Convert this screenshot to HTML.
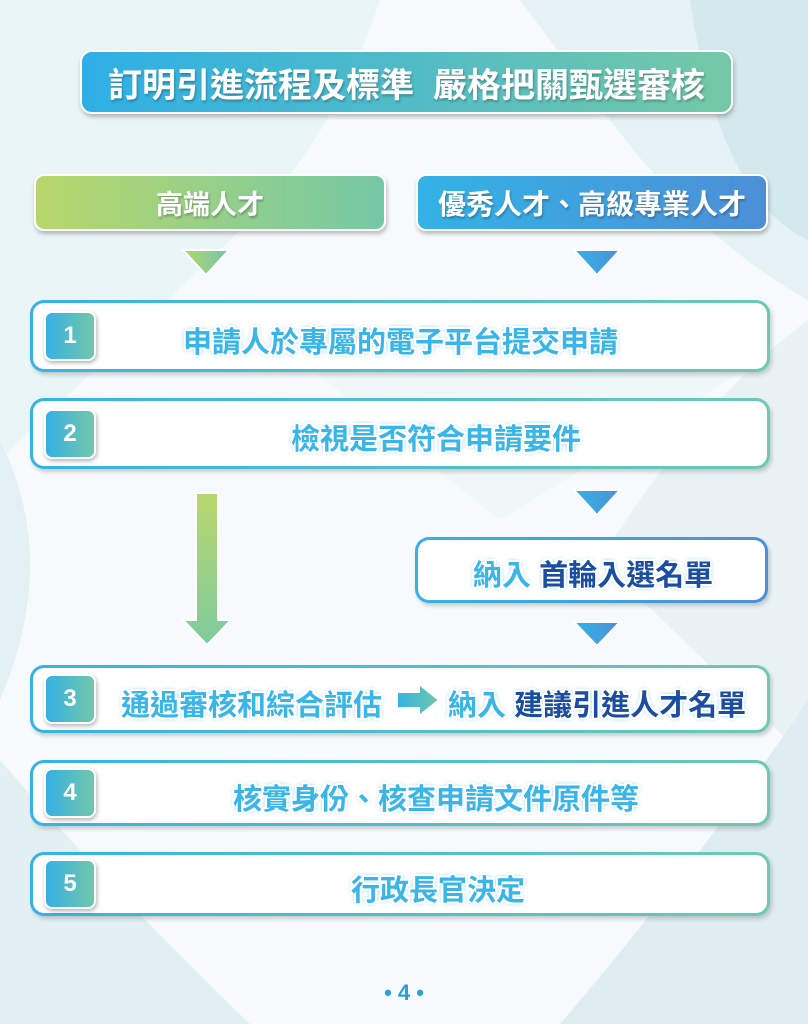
<!DOCTYPE html>
<html><head><meta charset="utf-8"><style>
*{margin:0;padding:0;box-sizing:border-box}
body{width:808px;height:1024px;position:relative;overflow:hidden;background:#f6fafc;font-family:"Liberation Sans","Noto Sans CJK TC",sans-serif;font-weight:bold}
.abs{position:absolute}
.hdr{position:absolute;color:#fff;display:flex;align-items:center;justify-content:center;border:2px solid #fff;border-radius:10px;box-shadow:1px 3px 4px rgba(0,0,0,.25);text-shadow:1px 2px 2px rgba(0,0,0,.25)}
.row{position:absolute;left:30px;width:740px;background:#fff;border-radius:14px;border:3px solid transparent;background-image:linear-gradient(#fff,#fff),linear-gradient(90deg,#35b3e6,#6dc9b3);background-origin:border-box;background-clip:padding-box,border-box;box-shadow:2px 3px 4px rgba(0,0,0,.18)}
.num{position:absolute;left:11px;width:52px;height:50px;border-radius:8px;background:linear-gradient(90deg,#36b0e4,#72c7a9);border:2px solid #fff;box-shadow:1px 2px 4px rgba(0,0,0,.3);color:#fff;font-size:24px;display:flex;align-items:center;justify-content:center}
.t{position:absolute;font-size:29px;color:#3ab5e8;white-space:nowrap;text-shadow:-2px 0 #fff,2px 0 #fff,0 -2px #fff,0 2px #fff,-2px -2px #fff,2px 2px #fff,-2px 2px #fff,2px -2px #fff,0 0 5px #8fd2ee,0 0 6px #8fd2ee,0 0 3px #8fd2ee}
.d{color:#1b4ea0}
</style></head><body>
<svg class="abs" style="left:0;top:0" width="808" height="1024">
<path d="M0 0 L380 0 Q330 150 230 240 L0 460Z" fill="#e6f2f5" opacity=".7"/>
<path d="M520 0 L808 0 L808 300 Q700 240 610 120Z" fill="#e2f0f3" opacity=".8"/>
<path d="M690 0 L808 0 L808 240 Q720 200 690 0Z" fill="#d3e9ee"/>
<path d="M0 440 Q60 560 0 700Z" fill="#e4f1f4"/>
<path d="M808 320 Q700 400 600 560 L808 760Z" fill="#e6f1f4" opacity=".8"/>
<path d="M0 760 L0 1024 L250 1024 Q120 900 0 760Z" fill="#e3f0f3"/>
<path d="M808 700 L808 1024 L560 1024 Q700 860 808 700Z" fill="#deedf1"/>
<path d="M300 360 L760 360 L500 520Z" fill="#edf5f7" opacity=".7"/>
</svg>
<div class="hdr" style="left:80px;top:50px;width:653px;height:64px;background:linear-gradient(90deg,#2eafe6,#74c8a6);font-size:34px;border-radius:12px">訂明引進流程及標準&nbsp;&nbsp;嚴格把關甄選審核</div>
<div class="hdr" style="left:34px;top:174px;width:352px;height:57px;background:linear-gradient(90deg,#b8d76b,#75c8a6);font-size:27px">高端人才</div>
<div class="hdr" style="left:416px;top:174px;width:352px;height:57px;background:linear-gradient(90deg,#33b2e6,#4d8fd6);font-size:28px">優秀人才、高級專業人才</div>
<svg class="abs" style="left:0;top:0" width="808" height="1024">
<defs><linearGradient id="g" x1="0" x2="1"><stop offset="0" stop-color="#b6d66c"/><stop offset="1" stop-color="#6fc6a8"/></linearGradient>
<linearGradient id="b" x1="0" x2="1"><stop offset="0" stop-color="#33b3e6"/><stop offset="1" stop-color="#4f8fd6"/></linearGradient>
<linearGradient id="gv" x1="0" y1="0" x2="0" y2="1"><stop offset="0" stop-color="#b8d76c"/><stop offset="1" stop-color="#7ecb9e"/></linearGradient>
<linearGradient id="ar" x1="0" x2="1"><stop offset="0" stop-color="#35b2e5"/><stop offset="1" stop-color="#6fc8a8"/></linearGradient></defs>
<polygon points="183,250 229,250 206,275" fill="url(#g)" stroke="#fff" stroke-width="2"/>
<polygon points="574,250 620,250 597,275" fill="url(#b)" stroke="#fff" stroke-width="2"/>
<polygon points="574,490 620,490 597,515" fill="url(#b)" stroke="#fff" stroke-width="2"/>
<polygon points="574,622 620,622 597,646" fill="url(#b)" stroke="#fff" stroke-width="2"/>
<polygon points="196,493 218,493 218,620 231,620 207,645 183,620 196,620" fill="url(#gv)" stroke="#fff" stroke-width="2"/>
</svg>
<div class="row" style="top:300px;height:72px"><div class="num" style="top:8px">1</div><div class="t" style="left:150px;top:16px">申請人於專屬的電子平台提交申請</div></div>
<div class="row" style="top:398px;height:71px"><div class="num" style="top:8px">2</div><div class="t" style="left:258px;top:15px">檢視是否符合申請要件</div></div>
<div class="row" style="left:415px;width:353px;top:537px;height:66px;background-image:linear-gradient(#fff,#fff),linear-gradient(90deg,#35b3e6,#4f8fd6)"><div class="t" style="left:55px;top:12px">納入 <span class="d">首輪入選名單</span></div></div>
<div class="row" style="top:665px;height:68px"><div class="num" style="top:6px">3</div><div class="t" style="left:88px;top:14px">通過審核和綜合評估</div>
<svg class="abs" style="left:362px;top:14px" width="50" height="36"><polygon points="2,10 24,10 24,2 44,18 24,34 24,26 2,26" fill="url(#ar)" stroke="#fff" stroke-width="2"/></svg>
<div class="t" style="left:415px;top:14px">納入 <span class="d">建議引進人才名單</span></div></div>
<div class="row" style="top:760px;height:66px"><div class="num" style="top:5px">4</div><div class="t" style="left:200px;top:13px">核實身份、核查申請文件原件等</div></div>
<div class="row" style="top:852px;height:64px"><div class="num" style="top:4px">5</div><div class="t" style="left:318px;top:12px">行政長官決定</div></div>
<div class="abs" style="left:0;width:808px;top:980px;text-align:center;color:#2b9fd8;font-size:22px">• 4 •</div>
</body></html>
